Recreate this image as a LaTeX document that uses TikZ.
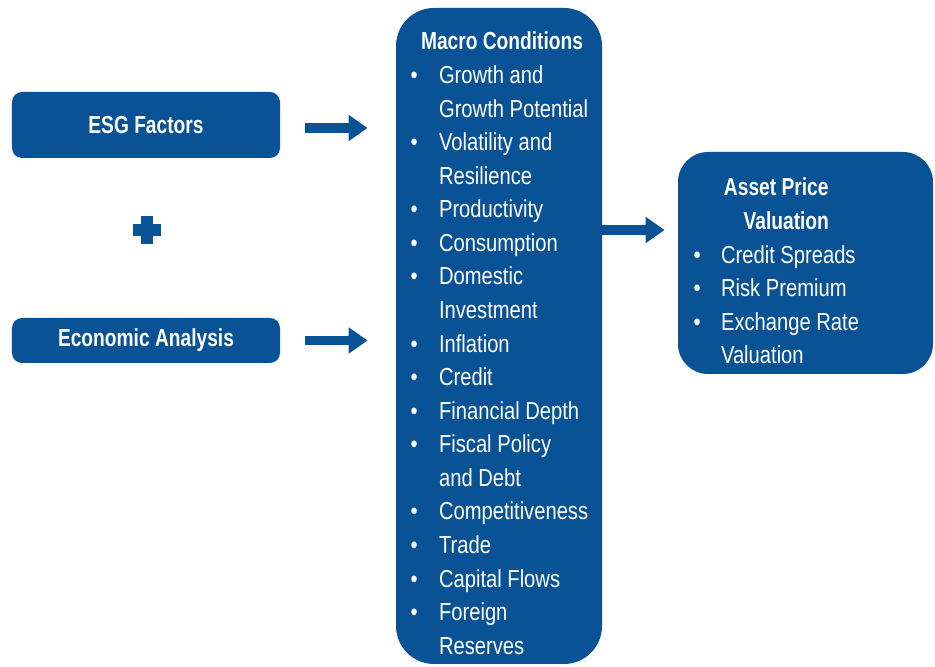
\documentclass[tikz,border=0pt]{standalone}
\usepackage{fontspec}
\setmainfont{Liberation Sans}[FakeStretch=0.82, BoldFeatures={FakeStretch=0.78}]
\usetikzlibrary{arrows.meta,positioning}

\definecolor{panelblue}{RGB}{10,82,150}

\tikzset{
  panel/.style={fill=panelblue, draw=none, text=white, font=\fontsize{14}{17}\selectfont\bfseries},
  itemlist/.style={text=white, inner sep=0pt, font=\fontsize{14}{19.1}\selectfont},
  flowarrow/.style={draw=panelblue, line width=0.19cm, -{Triangle[length=0.38cm,width=0.5cm]}},
}

\begin{document}
\begin{tikzpicture}
    \useasboundingbox (0,0) rectangle (18.7,13.34);
    % inputs on the left
    \draw (2.92,10.84) node[panel, rounded corners=0.2cm, minimum width=5.36cm, minimum height=1.32cm] (esg) {ESG Factors};
    \draw (2.92,6.53) node[panel, rounded corners=0.2cm, minimum width=5.36cm, minimum height=0.9cm] (econ) {Economic Analysis};
    \coordinate (plus) at (2.94,8.74);
    \fill[panelblue] (plus) ++(-0.28,-0.12) rectangle ++(0.56,0.24);
    \fill[panelblue] (plus) ++(-0.12,-0.28) rectangle ++(0.24,0.56);
    % the two lists
    \draw (9.98,6.62) node[panel, rounded corners=0.76cm, minimum width=4.12cm, minimum height=13.12cm] (macro) {};
    \draw (16.11,8.08) node[panel, rounded corners=0.6cm, minimum width=5.1cm, minimum height=4.44cm] (asset) {};
    \node[itemlist, below right=0.37cm and 0.29cm of macro.north west] (macrolist) {%
      \begin{tabular}{@{}c@{\hspace{0.43cm}}l@{}}
        \multicolumn{2}{c}{\bfseries Macro Conditions}\\
        \textbullet & Growth and\\
                    & Growth Potential\\
        \textbullet & Volatility and\\
                    & Resilience\\
        \textbullet & Productivity\\
        \textbullet & Consumption\\
        \textbullet & Domestic\\
                    & Investment\\
        \textbullet & Inflation\\
        \textbullet & Credit\\
        \textbullet & Financial Depth\\
        \textbullet & Fiscal Policy\\
                    & and Debt\\
        \textbullet & Competitiveness\\
        \textbullet & Trade\\
        \textbullet & Capital Flows\\
        \textbullet & Foreign\\
                    & Reserves
      \end{tabular}};
    \node[itemlist, below right=0.41cm and 0.31cm of asset.north west] (assetlist) {%
      \begin{tabular}{@{}c@{\hspace{0.41cm}}l@{}}
        \multicolumn{2}{c}{\bfseries Asset Price}\\
        \multicolumn{2}{c}{\bfseries\hspace{0.4cm}Valuation}\\
        \textbullet & Credit Spreads\\
        \textbullet & Risk Premium\\
        \textbullet & Exchange Rate\\
                    & Valuation
      \end{tabular}};
    % arrows
    \draw[flowarrow, shorten <=0.5cm, shorten >=0.56cm] ([yshift=-0.06cm]esg.east) -- ([yshift=-0.06cm]esg.east -| macro.west);
    \draw[flowarrow, shorten <=0.5cm, shorten >=0.56cm] (econ) -- (econ -| macro.west);
    \draw[flowarrow, shorten >=0.26cm] (macro.east |- plus) -- (asset.west |- plus);
\end{tikzpicture}
\end{document}
